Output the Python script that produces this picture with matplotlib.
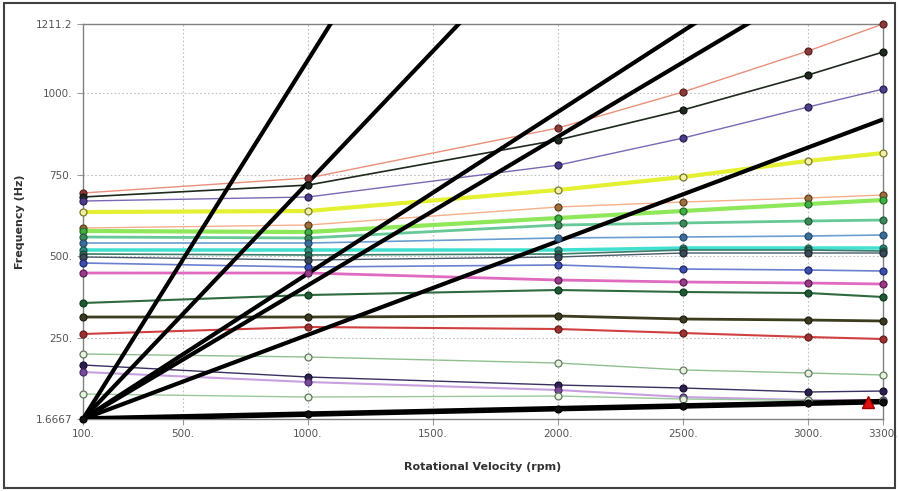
import matplotlib
matplotlib.use("Agg")
import matplotlib.pyplot as plt
from matplotlib.patches import Rectangle

# rotational speeds where the modes were solved
rpm = [100, 1000, 2000, 2500, 3000, 3300]

# mode frequencies (Hz), one list per mode, top to bottom
mode_01 = [693.7, 739.6, 892.8, 1003.0, 1128.5, 1211.2]
mode_02 = [681.5, 718.0, 856.0, 948.0, 1055.0, 1125.5]
mode_03 = [669.2, 681.5, 779.0, 862.0, 957.0, 1012.0]
mode_04 = [635.5, 638.6, 703.0, 742.7, 792.0, 816.0]
mode_05 = [586.5, 595.7, 650.9, 666.2, 678.4, 687.6]
mode_06 = [577.4, 574.3, 617.2, 638.6, 660.0, 672.3]
mode_07 = [559.0, 556.0, 595.7, 601.9, 608.0, 611.0]
mode_08 = [540.6, 540.6, 556.0, 559.0, 562.0, 565.1]
mode_09 = [519.2, 519.2, 519.2, 525.3, 525.3, 525.3]
mode_10 = [507.0, 503.9, 507.0, 519.2, 519.2, 516.1]
mode_11 = [497.8, 488.6, 497.8, 510.0, 510.0, 510.0]
mode_12 = [479.4, 467.1, 473.3, 461.0, 457.9, 454.9]
mode_13 = [448.8, 448.8, 427.3, 421.2, 418.1, 415.1]
mode_14 = [356.9, 381.4, 396.7, 390.6, 387.5, 375.3]
mode_15 = [314.0, 314.0, 317.1, 307.9, 304.8, 301.8]
mode_16 = [262.0, 283.4, 277.3, 265.0, 252.8, 246.7]
mode_17 = [200.7, 191.6, 173.2, 151.9, 142.6, 136.5]
mode_18 = [167.1, 130.3, 105.8, 96.6, 84.4, 87.4]
mode_19 = [145.6, 115.0, 90.5, 69.0, 59.9, 59.9]
mode_20 = [78.3, 69.0, 72.1, 63.0, 59.0, 57.0]
mode_21 = [1.6667, 16.7, 33.3, 41.7, 50.0, 55.0]

modes = [mode_01, mode_02, mode_03, mode_04, mode_05, mode_06, mode_07,
         mode_08, mode_09, mode_10, mode_11, mode_12, mode_13, mode_14,
         mode_15, mode_16, mode_17, mode_18, mode_19, mode_20, mode_21]

# excitation (order) lines: start point and frequency reached at 3300 rpm
order_start = (100, 1.6667)
order_end_freq = [55.0, 919.0, 1458.0, 1586.0, 2577.0, 3911.0]

# critical speed marker
critical_rpm = [3240]
critical_freq = [54.0]

xticks = [100, 500, 1000, 1500, 2000, 2500, 3000, 3300]
xtick_labels = ["100.", "500.", "1000.", "1500.", "2000.", "2500.", "3000.", "3300."]
yticks = [1.6667, 250, 500, 750, 1000, 1211.2]
ytick_labels = ["1.6667", "250.", "500.", "750.", "1000.", "1211.2"]

# (line colour, line width, marker face, marker edge)
styles = [
    ("#e8907a", 1.0, "#8b3a3a", "#5a2020"),
    ("#1e2a1e", 1.2, "#1e2a1e", "#101010"),
    ("#7b68b5", 1.0, "#4b3c8c", "#2a2050"),
    ("#e4f032", 3.0, "#f2f0a0", "#7a7a30"),
    ("#f4b08a", 1.0, "#a0703a", "#5a4020"),
    ("#8ee85a", 3.0, "#3cb043", "#2a6a2a"),
    ("#66c896", 2.0, "#3a8a5a", "#2a5a3a"),
    ("#6a9ed0", 1.2, "#3a6e9a", "#2a4a6a"),
    ("#40e0d0", 2.5, "#2e8b7a", "#1e5a50"),
    ("#3a7a6a", 1.2, "#2a6a5a", "#1a4a3a"),
    ("#4a5a6a", 1.0, "#3a4a5a", "#202a30"),
    ("#6a7fd0", 1.2, "#3a4faf", "#202a6a"),
    ("#e06ac0", 2.0, "#9a3a8a", "#5a2050"),
    ("#2e6b3e", 1.5, "#1e5a32", "#103a20"),
    ("#3c3c1e", 2.0, "#3a3a20", "#202010"),
    ("#d04040", 1.5, "#a03030", "#602020"),
    ("#90c090", 1.0, "#e8f0e0", "#607a60"),
    ("#3a3060", 1.0, "#2b2050", "#1a1030"),
    ("#c8a0e0", 1.5, "#7a4a9a", "#4a2a6a"),
    ("#9ac89a", 1.0, "#e8f0e0", "#607a60"),
    ("#000000", 0.0, "#101010", "#000000"),
]

fig = plt.figure(figsize=(8.99, 4.91), dpi=100)
ax = fig.add_axes([0.0923, 0.1466, 0.8899, 0.8045])

for vals, (lc, lw, mf, me) in zip(modes, styles):
    if lw > 0:
        ax.plot(rpm, vals, color=lc, lw=lw, zorder=2, solid_capstyle="butt")
    ax.plot(rpm, vals, ls="none", marker="o", ms=5.0, mfc=mf, mec=me,
            mew=0.9, zorder=5, clip_on=False)

for i, f_end in enumerate(order_end_freq):
    lw = 4.0 if i == 0 else 3.0
    ax.plot([order_start[0], 3300], [order_start[1], f_end], color="black",
            lw=lw, zorder=4, solid_capstyle="butt")

ax.plot(critical_rpm, critical_freq, ls="none", marker="^", ms=9,
        mfc="#e01010", mec="#a00000", zorder=6)

ax.set_xlim(100, 3300)
ax.set_ylim(1.6667, 1211.2)
ax.set_xticks(xticks)
ax.set_xticklabels(xtick_labels)
ax.set_yticks(yticks)
ax.set_yticklabels(ytick_labels)
ax.tick_params(labelsize=7.5, labelcolor="#555555", color="#999999",
               length=4, width=0.8)

for x in xticks[1:-1]:
    ax.axvline(x, color="#c0c0c0", lw=0.8, ls=(0, (1.5, 2)), zorder=1)
for y in yticks[1:-1]:
    ax.axhline(y, color="#c0c0c0", lw=0.8, ls=(0, (1.5, 2)), zorder=1)

for s in ax.spines.values():
    s.set_color("#808080")
    s.set_linewidth(1.0)

ax.set_xlabel("Rotational Velocity (rpm)", fontsize=8, fontweight="bold",
              color="#333333", labelpad=16)
ax.set_ylabel("Frequency (Hz)", fontsize=8, fontweight="bold",
              color="#333333", labelpad=8)

fig.patches.append(Rectangle((0.004, 0.006), 0.992, 0.988, transform=fig.transFigure,
                             fill=False, edgecolor="#404040", lw=1.5))

fig.savefig("out.png", dpi=100)
